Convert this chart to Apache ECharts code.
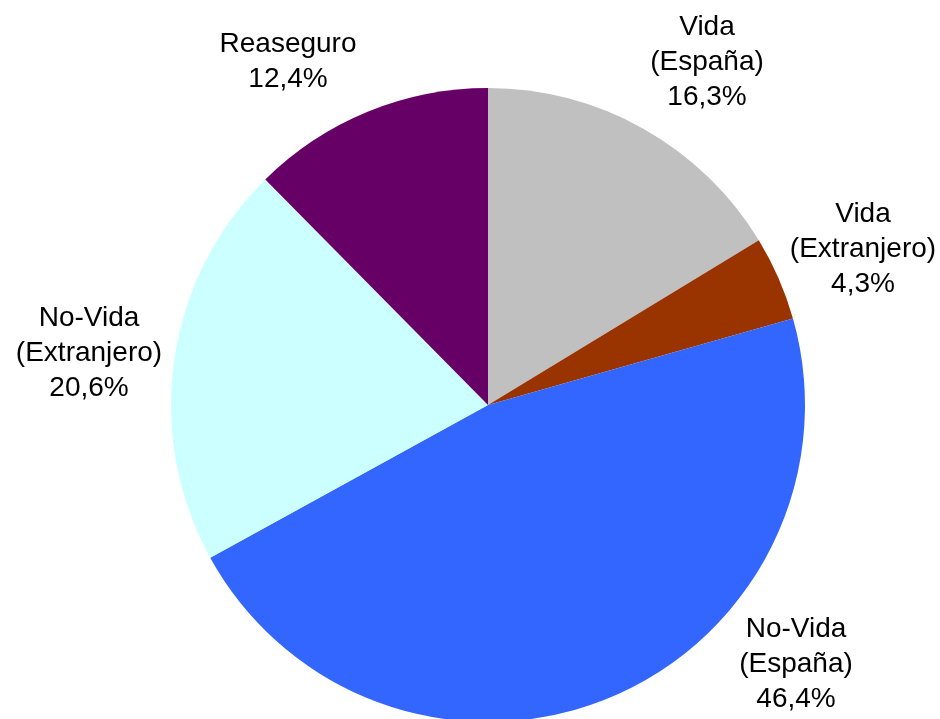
<!DOCTYPE html>
<html>
<head>
<meta charset="utf-8">
<script src="https://cdn.jsdelivr.net/npm/echarts@6/dist/echarts.min.js"></script>
<style>
  html, body { margin: 0; padding: 0; background: #fff; }
  #chart { width: 940px; height: 719px; }
</style>
</head>
<body>
<div id="chart"></div>
<script>
// categories (clockwise from 12 o'clock)
var categories = ['Vida\n(España)', 'Vida\n(Extranjero)', 'No-Vida\n(España)', 'No-Vida\n(Extranjero)', 'Reaseguro'];
var shares = [16.3, 4.3, 46.4, 20.6, 12.4];
var colors = ['#C0C0C0', '#993300', '#3366FF', '#CCFFFF', '#660066'];

// where each label block sits (centre of the text)
var labelSpots = [[707, 62], [863, 249], [796, 664], [89, 353], [288, 62]];

var myChart = echarts.init(document.getElementById('chart'), null, { renderer: 'canvas' });

var option = {
  animation: false,
  textStyle: { fontFamily: 'Liberation Sans, Arial, sans-serif' },
  series: [
    {
      type: 'pie',
      center: [488, 405],
      radius: 317,
      startAngle: 90,
      clockwise: true,
      data: categories.map(function (c, i) {
        return { name: c, value: shares[i], itemStyle: { color: colors[i] } };
      }),
      itemStyle: { borderWidth: 0 },
      emphasis: { disabled: true },
      label: {
        show: true,
        position: 'outside',
        color: '#000',
        fontSize: 28,
        lineHeight: 35,
        align: 'center',
        overflow: 'none',
        fontFamily: 'Liberation Sans, Arial, sans-serif',
        formatter: function (p) {
          return p.name + '\n' + p.value.toFixed(1).replace('.', ',') + '%';
        }
      },
      labelLine: { show: false },
      labelLayout: function (params) {
        var s = labelSpots[params.dataIndex];
        return { x: s[0], y: s[1], align: 'center', verticalAlign: 'middle' };
      }
    }
  ]
};

option && myChart.setOption(option);
</script>
</body>
</html>
